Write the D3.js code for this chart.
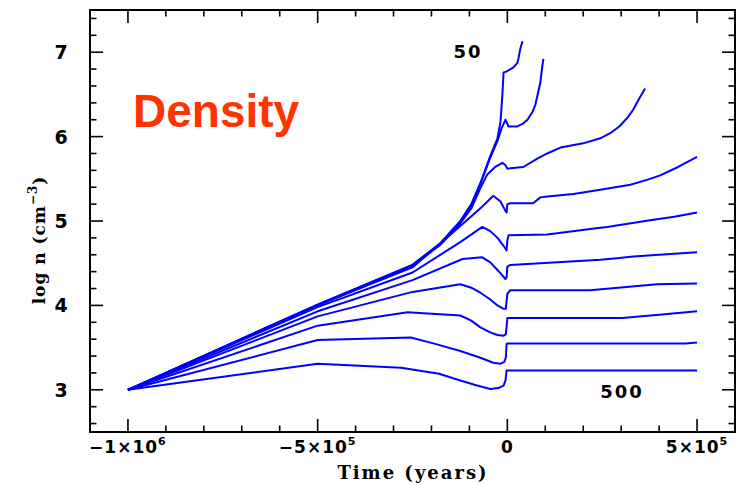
<!DOCTYPE html>
<html><head><meta charset="utf-8">
<script src="https://cdn.jsdelivr.net/npm/d3@7"></script>
<style>body{margin:0;background:#fff}</style>
</head><body><svg id="c" width="750" height="485"></svg>
<script>
// ---- data ----
const xMajorTicks = [-1e6, -5e5, 0, 5e5];
const xTickLabels = [["−1×10","6"],["−5×10","5"],["0",""],["5×10","5"]];
const yMajorTicks = [3, 4, 5, 6, 7];
const yTickLabels = ["3", "4", "5", "6", "7"];
const seriesNames = ["50","100","150","200","250","300","350","400","450","500"];

const n50  = [[-1e6,3],[-5e5,4.01],[-2.5e5,4.48],[-1.76e5,4.74],[-1.24e5,5.0],[-9.5e4,5.2],[-7.1e4,5.45],[-4.5e4,5.77],[-2.6e4,5.98],[-1.8e4,6.18],[-1.3e4,6.5],[-1e4,6.76],[-3e3,6.77],[1.6e4,6.82],[2.6e4,6.87],[2.9e4,6.92],[3.4e4,7.04],[4e4,7.13]];
const n100 = [[-1e6,3],[-5e5,4.01],[-2.5e5,4.48],[-1.76e5,4.73],[-1.24e5,4.99],[-9.5e4,5.19],[-7.1e4,5.44],[-4.5e4,5.75],[-2.6e4,5.95],[-1.5e4,6.1],[-5e3,6.2],[0,6.15],[3e3,6.12],[2.6e4,6.12],[4e4,6.15],[5.3e4,6.2],[6.6e4,6.29],[7.4e4,6.38],[7.9e4,6.48],[8.7e4,6.64],[9.2e4,6.83],[9.5e4,6.92]];
const n150 = [[-1e6,3],[-5e5,4.0],[-2.5e5,4.47],[-1.76e5,4.72],[-1.24e5,4.97],[-9.5e4,5.15],[-7.1e4,5.39],[-5.3e4,5.55],[-3.2e4,5.64],[-1.3e4,5.69],[-5e3,5.66],[0,5.62],[4.2e4,5.64],[7.9e4,5.74],[1.05e5,5.80],[1.4e5,5.87],[2e5,5.92],[2.45e5,5.98],[2.71e5,6.04],[2.95e5,6.12],[3.16e5,6.22],[3.32e5,6.32],[3.45e5,6.43],[3.63e5,6.57]];
const n200 = [[-1e6,3],[-5e5,4.0],[-2.5e5,4.45],[-1.24e5,4.94],[-7.1e4,5.15],[-3.7e4,5.30],[-1.8e4,5.23],[-5e3,5.12],[-2e3,5.10],[0,5.2],[8e3,5.21],[6.8e4,5.21],[8.7e4,5.28],[1.05e5,5.29],[1.74e5,5.32],[2.45e5,5.37],[3.24e5,5.43],[3.7e5,5.49],[4.03e5,5.54],[4.5e5,5.64],[5e5,5.76]];
const n250 = [[-1e6,3],[-5e5,3.98],[-2.5e5,4.39],[-1.24e5,4.75],[-6.6e4,4.93],[-4.5e4,4.88],[-2.6e4,4.80],[-1.4e4,4.73],[-6e3,4.68],[-2e3,4.65],[0,4.77],[3e3,4.83],[1.05e5,4.84],[2.45e5,4.92],[2.63e5,4.93],[3.76e5,5.01],[4.4e5,5.05],[5e5,5.10]];
const n300 = [[-1e6,3],[-5e5,3.93],[-2.5e5,4.30],[-1.18e5,4.55],[-6.6e4,4.57],[-4.5e4,4.51],[-2.6e4,4.42],[-1.2e4,4.35],[-5e3,4.31],[-2e3,4.33],[0,4.46],[8e3,4.48],[2.45e5,4.54],[2.89e5,4.56],[3.32e5,4.58],[5e5,4.63]];
const n350 = [[-1e6,3],[-5e5,3.87],[-2.5e5,4.16],[-1.24e5,4.25],[-9.5e4,4.21],[-7.1e4,4.15],[-4.5e4,4.07],[-2.6e4,4.0],[-1e4,3.96],[-4e3,3.96],[-2e3,4.05],[0,4.14],[8e3,4.18],[2.18e5,4.18],[3.95e5,4.25],[5e5,4.26]];
const n400 = [[-1e6,3],[-5e5,3.76],[-2.63e5,3.92],[-1.24e5,3.88],[-9.5e4,3.82],[-7.1e4,3.74],[-4.5e4,3.68],[-2.6e4,3.65],[-1e4,3.64],[-4e3,3.66],[-2e3,3.75],[0,3.85],[3.03e5,3.85],[4e5,3.89],[5e5,3.93]];
const n450 = [[-1e6,3],[-5e5,3.59],[-2.55e5,3.62],[-1.95e5,3.55],[-1.24e5,3.46],[-7.1e4,3.38],[-3.7e4,3.32],[-1.8e4,3.31],[-8e3,3.33],[-4e3,3.38],[-2e3,3.54],[0,3.55],[4.7e5,3.55],[5e5,3.56]];
const n500 = [[-1e6,3],[-5e5,3.31],[-2.8e5,3.26],[-1.8e5,3.19],[-1.24e5,3.11],[-8e4,3.05],[-4.5e4,3.01],[-2.4e4,3.02],[-1e4,3.05],[-5e3,3.11],[-2e3,3.23],[0,3.23],[5e5,3.23]];
const allSeries = [n50,n100,n150,n200,n250,n300,n350,n400,n450,n500];

// ---- layout ----
const L = 90, R = 735, T = 10, B = 432;
const svg = d3.select("#c");
const x = d3.scaleLinear().domain([-1.1e6, 6e5]).range([L, R]);
const y = d3.scaleLinear().domain([2.5, 7.5]).range([B, T]);

const minorX = d3.range(-10, 6).map(d => d * 1e5).filter(d => !xMajorTicks.includes(d));
const minorY = d3.range(13, 38).map(d => d / 5).filter(d => !yMajorTicks.includes(d));

const MAJ = 13, MIN = 6.5;
const tk = svg.append("g").attr("stroke", "#000").attr("stroke-width", 1.6);
function xt(vals, len) {
  vals.forEach(v => {
    tk.append("line").attr("x1", x(v)).attr("x2", x(v)).attr("y1", B).attr("y2", B - len);
    tk.append("line").attr("x1", x(v)).attr("x2", x(v)).attr("y1", T).attr("y2", T + len);
  });
}
function yt(vals, len) {
  vals.forEach(v => {
    tk.append("line").attr("y1", y(v)).attr("y2", y(v)).attr("x1", L).attr("x2", L + len);
    tk.append("line").attr("y1", y(v)).attr("y2", y(v)).attr("x1", R).attr("x2", R - len);
  });
}
xt(xMajorTicks, MAJ); xt(minorX, MIN);
yt(yMajorTicks, MAJ); yt(minorY, MIN);

svg.append("rect").attr("x", L).attr("y", T).attr("width", R - L).attr("height", B - T)
  .attr("fill", "none").attr("stroke", "#000").attr("stroke-width", 2);

// curves
const line = d3.line().x(d => x(d[0])).y(d => y(d[1])).curve(d3.curveLinear);
svg.append("g").selectAll("path").data(allSeries).join("path")
  .attr("d", line).attr("fill", "none").attr("stroke", "#0000ff")
  .attr("stroke-width", 2).attr("stroke-linejoin", "round");

// tick labels
const lab = svg.append("g").attr("font-family", "DejaVu Sans").attr("font-weight", "bold")
  .attr("fill", "#000");
xMajorTicks.forEach((v, i) => {
  const t = lab.append("text").attr("x", x(v)).attr("y", 453).attr("text-anchor", "middle")
    .attr("font-size", 17).attr("letter-spacing", 1);
  t.append("tspan").text(xTickLabels[i][0]);
  if (xTickLabels[i][1]) t.append("tspan").attr("dy", -8).attr("font-size", 11).text(xTickLabels[i][1]);
});
yMajorTicks.forEach((v, i) => {
  lab.append("text").attr("x", 61).attr("y", y(v) + 7).attr("text-anchor", "middle")
    .attr("font-size", 19).text(yTickLabels[i]);
});

// axis titles
svg.append("text").attr("x", 413).attr("y", 479).attr("text-anchor", "middle")
  .attr("font-family", "DejaVu Serif").attr("font-weight", "bold").attr("font-size", 18)
  .attr("letter-spacing", 2).text("Time (years)");
const yl = svg.append("text").attr("transform", "translate(45,240) rotate(-90)")
  .attr("text-anchor", "middle").attr("font-family", "DejaVu Serif").attr("font-weight", "bold")
  .attr("font-size", 17).attr("letter-spacing", 1);
yl.append("tspan").text("log n (cm");
yl.append("tspan").attr("dy", -8).attr("font-size", 12).text("−3");
yl.append("tspan").attr("dy", 8).text(")");

// annotations
svg.append("text").attr("x", 468).attr("y", 58).attr("text-anchor", "middle")
  .attr("font-family", "DejaVu Sans").attr("font-weight", "bold").attr("font-size", 18)
  .attr("letter-spacing", 2).text(seriesNames[0]);
svg.append("text").attr("x", 622).attr("y", 398).attr("text-anchor", "middle")
  .attr("font-family", "DejaVu Sans").attr("font-weight", "bold").attr("font-size", 18)
  .attr("letter-spacing", 2).text(seriesNames[9]);
svg.append("text").attr("x", 133).attr("y", 127)
  .attr("font-family", "Liberation Sans").attr("font-weight", "bold").attr("font-size", 46)
  .attr("fill", "#ff3300").text("Density");
</script></body></html>
